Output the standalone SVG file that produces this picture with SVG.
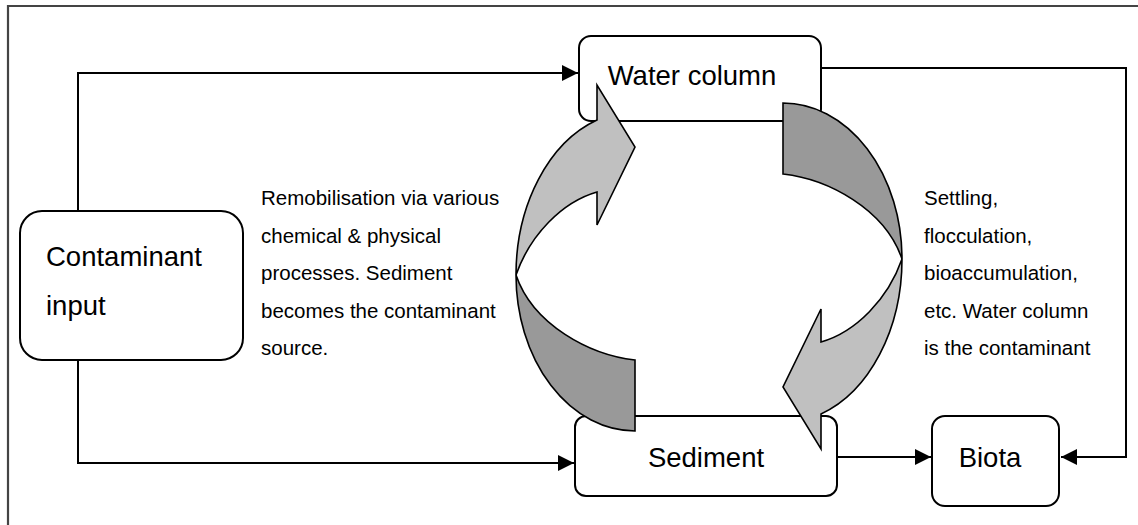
<svg xmlns="http://www.w3.org/2000/svg" width="1138" height="525" viewBox="0 0 1138 525">
<defs>
<style>
.box{fill:#fff;stroke:#000;stroke-width:2}
.lbl{font-family:"Liberation Sans",Arial,sans-serif;fill:#000}
.big{font-size:27.5px}
.small{font-size:20.5px}
.conn{fill:none;stroke:#000;stroke-width:2}
.light{fill:#c0c0c0;stroke:#000;stroke-width:1.6;stroke-linejoin:miter}
.dark{fill:#999;stroke:#000;stroke-width:1.6;stroke-linejoin:miter}
</style>
<marker id="ah" viewBox="0 0 16 16" refX="16" refY="8" markerWidth="16" markerHeight="16" markerUnits="userSpaceOnUse" orient="auto">
<path d="M0,0 L16,8 L0,16 Z" fill="#000"/>
</marker>
</defs>
<rect width="1138" height="525" fill="#fff"/>
<path d="M8,525 L8,6 L1138,6" fill="none" stroke="#444" stroke-width="2.2"/>

<g id="connectors">
<path class="conn" d="M78,211 L78,73 L578,73" marker-end="url(#ah)"/>
<path class="conn" d="M78,360 L78,463 L574,463" marker-end="url(#ah)"/>
<path class="conn" d="M821,68 L1126,68 L1126,457 L1061,457" marker-end="url(#ah)"/>
<path class="conn" d="M837,457 L931,457" marker-end="url(#ah)"/>
</g>

<g id="contaminant-input">
<rect class="box" x="20" y="211" width="223" height="149" rx="22" ry="22"/>
<text class="lbl big" x="46" y="266">Contaminant</text>
<text class="lbl big" x="46" y="315">input</text>
</g>

<g id="water-column">
<rect class="box" x="579" y="36" width="242" height="85" rx="12" ry="12"/>
<text class="lbl big" x="692" y="85" text-anchor="middle">Water column</text>
</g>

<g id="sediment">
<rect class="box" x="575" y="416" width="262" height="80" rx="11" ry="11"/>
<text class="lbl big" x="706" y="467" text-anchor="middle">Sediment</text>
</g>

<g id="biota">
<rect class="box" x="932" y="416" width="127" height="90" rx="13" ry="13"/>
<text class="lbl big" x="990" y="467" text-anchor="middle">Biota</text>
</g>

<g id="remobilisation-arrow">
<path class="dark" d="M516,275 A119,156 0 0 0 635,431 L635,360 C590,355 533,325 516,275 Z"/>
<path class="light" d="M597,120 L597,85 L635,147 L597,225 L597,192 C562,202 530,235 516,275 A119,163.5 0 0 1 597,120 Z"/>
</g>

<g id="settling-arrow" transform="rotate(180 709 267)">
<path class="dark" d="M516,275 A119,156 0 0 0 635,431 L635,360 C590,355 533,325 516,275 Z"/>
<path class="light" d="M597,120 L597,85 L635,147 L597,225 L597,192 C562,202 530,235 516,275 A119,163.5 0 0 1 597,120 Z"/>
</g>

<g id="remobilisation-text" class="lbl small">
<text x="261" y="205">Remobilisation via various</text>
<text x="261" y="243">chemical &amp; physical</text>
<text x="261" y="280">processes. Sediment</text>
<text x="261" y="318">becomes the contaminant</text>
<text x="261" y="355">source.</text>
</g>

<g id="settling-text" class="lbl small">
<text x="924" y="205">Settling,</text>
<text x="924" y="243">flocculation,</text>
<text x="924" y="280">bioaccumulation,</text>
<text x="924" y="318">etc. Water column</text>
<text x="924" y="355">is the contaminant</text>
</g>
</svg>
